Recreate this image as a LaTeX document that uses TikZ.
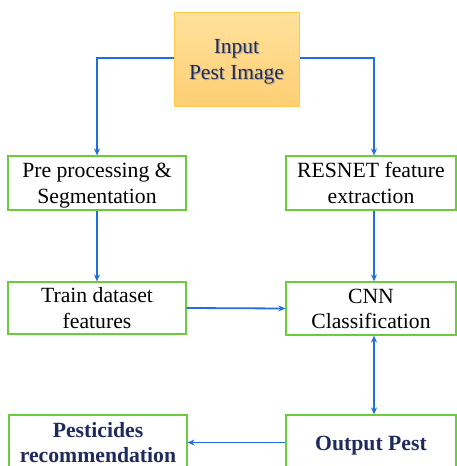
\documentclass[tikz,border=0pt]{standalone}
\usepackage{fontspec}
\setmainfont{Liberation Serif}
\usetikzlibrary{arrows.meta}
\definecolor{navy}{HTML}{1F2B5E}
\definecolor{boxgreen}{HTML}{6CCB3A}
\definecolor{linkblue}{HTML}{1F6FE0}
\definecolor{inlight}{HTML}{FFE19C}
\definecolor{indark}{HTML}{FFCF74}
\definecolor{inedge}{HTML}{FFC94A}
\tikzset{
  textbox/.style={align=center, inner sep=0pt, text depth=0pt},
  twolines/.style={text height=40.5pt},
  oneline/.style={text height=15pt},
  stagebox/.style={textbox, twolines, draw=boxgreen, line width=1.2pt, fill=white,
    font=\fontsize{21.7}{25.5}\selectfont},
  resultbox/.style={stagebox, text=navy, font=\fontsize{21.7}{25.5}\selectfont\bfseries},
  inputtext/.style={textbox, text height=41pt, font=\fontsize{21.5}{26}\selectfont},
  link/.style={draw=linkblue, line width=1.8pt, -{Stealth[length=7pt,width=6pt]}},
  twoway/.style={draw=linkblue, line width=1.8pt, {Stealth[length=7pt,width=6pt]}-{Stealth[length=7pt,width=6pt]}}
}
\begin{document}
\begin{tikzpicture}[x=1pt,y=-1pt]
\useasboundingbox (0,0) rectangle (457,466);
\clip (0,0) rectangle (457,466);
\fill[white] (0,0) rectangle (457,466);

% input image, with a soft drop shadow under its caption
\node[inputtext, draw=inedge, line width=1pt, top color=inlight, bottom color=indark,
      minimum width=125pt, minimum height=94pt, text=navy] (in) at (236.5,59) {\phantom{Input}\\\phantom{Pest Image}};
\node[inputtext, text=black!45, opacity=0.6] (inshadow) at (237.7,60.2) {Input\\Pest Image};
\node[inputtext, text=navy] (incaption) at (in.center) {Input\\Pest Image};

% processing stages
\node[stagebox, minimum width=178pt, minimum height=54pt] (pre) at (97,183) {Pre processing \&\\Segmentation};
\node[stagebox, minimum width=170pt, minimum height=54pt] (res) at (371,183) {RESNET feature\\extraction};
\node[stagebox, minimum width=178pt, minimum height=52pt] (train) at (97,308) {Train dataset\\features};
\node[stagebox, minimum width=170pt, minimum height=53pt] (cnn) at (371,308.5) {CNN\\Classification};

% results
\node[resultbox, minimum width=178pt, minimum height=55pt] (pest) at (98,442.5) {Pesticides\\recommendation};
\node[resultbox, oneline, minimum width=170pt, minimum height=55pt] (out) at (371,442.5) {Output Pest};

% connectors
\draw[link] ([yshift=1pt]in.west) -| (pre.north);
\draw[link] ([yshift=1pt]in.east) -| ([xshift=3pt]res.north);
\draw[link] (pre.south) -- (train.north);
\draw[link] ([xshift=3pt]res.south) -- ([xshift=3pt]cnn.north);
\draw[link] (train.east) -- (cnn.west);
\draw[twoway] ([xshift=3pt]cnn.south) -- ([xshift=3pt]out.north);
\draw[link] (out.west) -- (pest.east);
\end{tikzpicture}
\end{document}
